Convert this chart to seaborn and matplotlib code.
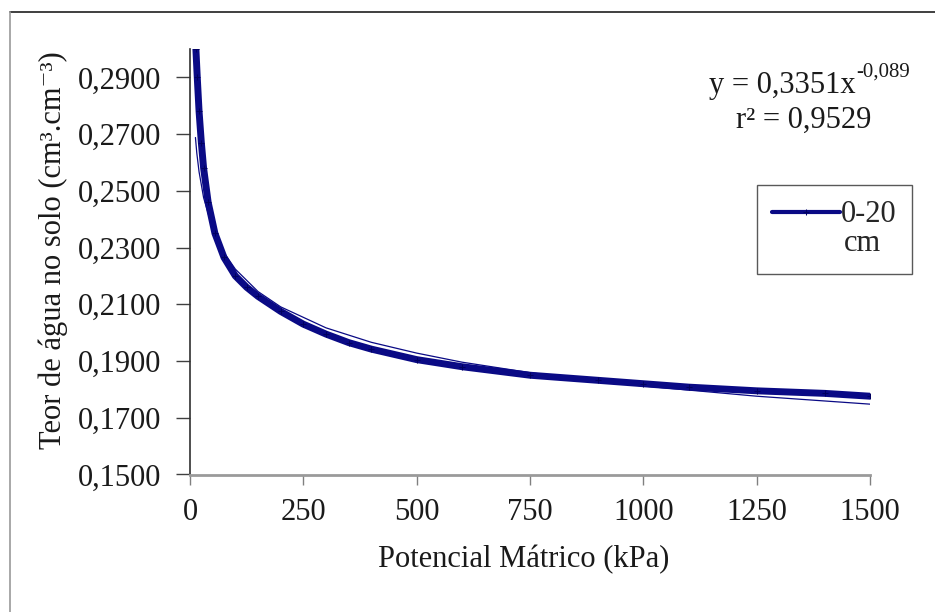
import matplotlib
matplotlib.use("Agg")
import matplotlib.pyplot as plt
from matplotlib.lines import Line2D
from matplotlib.ticker import FuncFormatter
import seaborn as sns
import pandas as pd

potencial_kpa = [13, 16, 20, 25, 30, 40, 55, 75, 100, 125, 150, 200, 250, 300,
                 350, 400, 500, 600, 750, 900, 1000, 1100, 1250, 1400, 1500]
teor_agua = [0.3000, 0.2900, 0.2780, 0.2670, 0.2580, 0.2460, 0.2350, 0.2265,
             0.2200, 0.2160, 0.2128, 0.2075, 0.2030, 0.1995, 0.1965, 0.1942,
             0.1905, 0.1880, 0.1850, 0.1832, 0.1820, 0.1808, 0.1795, 0.1786,
             0.1776]

# Power trend line (thin)
trend_kpa = [12, 15, 20, 30, 50, 75, 100, 150, 200, 300, 400, 500, 600,
             750, 900, 1000, 1250, 1500]
trend_teor = [0.2688, 0.2633, 0.2567, 0.2476, 0.2366, 0.2282,
              0.2224, 0.2145, 0.2091, 0.2017, 0.1966, 0.1928, 0.1896, 0.1859,
              0.1829, 0.1812, 0.1776, 0.1748]

x_ticks = [0, 250, 500, 750, 1000, 1250, 1500]
y_ticks = [0.15, 0.17, 0.19, 0.21, 0.23, 0.25, 0.27, 0.29]
serie_label = "0-20"
serie_label2 = "cm"
equacao = "y = 0,3351x"
expoente = "-0,089"
r2_texto = "r² = 0,9529"

sns.set_style("white")
plt.rcParams["font.family"] = ["Liberation Serif", "DejaVu Serif"]

navy = "#0a0a85"
txt = "#1a1a1a"

fig = plt.figure(figsize=(9.35, 6.12), dpi=100)
ax = fig.add_axes([190 / 935, 1 - 474.5 / 612, 680 / 935, 425.5 / 612])

df_data = pd.DataFrame({"x": potencial_kpa, "y": teor_agua})
df_trend = pd.DataFrame({"x": trend_kpa, "y": trend_teor})

sns.lineplot(data=df_trend, x="x", y="y", ax=ax, color=navy, lw=0.9,
             estimator=None, sort=False, legend=False)
sns.lineplot(data=df_data, x="x", y="y", ax=ax, color=navy, lw=5.0,
             marker="+", markersize=5, markeredgecolor="#000060",
             estimator=None, sort=False, label=serie_label)

ax.set_xlim(0, 1500)
ax.set_ylim(0.15, 0.30)
ax.set_xticks(x_ticks)
ax.set_yticks(y_ticks)
ax.yaxis.set_major_formatter(FuncFormatter(lambda v, p: f"{v:.4f}".replace(".", ",")))
ax.xaxis.set_major_formatter(FuncFormatter(lambda v, p: f"{int(round(v))}"))

for s in ["top", "right"]:
    ax.spines[s].set_visible(False)
ax.spines["left"].set_color("#303030")
ax.spines["left"].set_linewidth(1.2)
ax.spines["bottom"].set_color("#9a9a9a")
ax.spines["bottom"].set_linewidth(2.0)

ax.tick_params(axis="y", direction="out", length=10, width=1, color="#404040",
               labelsize=22, pad=11, left=True)
ax.tick_params(axis="x", direction="out", length=7, width=1, color="#808080",
               labelsize=22, pad=10, bottom=True)
for lab in ax.get_xticklabels() + ax.get_yticklabels():
    lab.set_color(txt)

ax.set_xlabel("Potencial Mátrico (kPa)", fontsize=22, color=txt)
ax.set_ylabel("Teor de água no solo (cm³.cm⁻³)", fontsize=22, color=txt)
ax.xaxis.set_label_coords((524 - 190) / 680, (474.5 - 560) / 425.5)
ax.xaxis.label.set_va("center")
ax.yaxis.set_label_coords((53 - 190) / 680, (474.5 - 250) / 425.5)
ax.yaxis.label.set_va("center")

t_eq = ax.text((856 - 190) / 680, (474.5 - 85) / 425.5, equacao, transform=ax.transAxes,
               ha="right", va="center", fontsize=22, color=txt)
ax.annotate(expoente, xy=(1.0, 0.62), xycoords=t_eq, ha="left", va="bottom",
            fontsize=15, color=txt)
ax.text((804 - 190) / 680, (474.5 - 120) / 425.5, r2_texto, transform=ax.transAxes,
        ha="center", va="center", fontsize=22, color=txt)

handles, _ = ax.get_legend_handles_labels()
blank = Line2D([], [], color="none")
leg = ax.legend([handles[0], blank], [serie_label, serie_label2],
                loc="upper right", bbox_to_anchor=((912 - 190) / 680, (474.5 - 185) / 425.5),
                frameon=True, fancybox=False, fontsize=22, handlelength=2.2,
                handletextpad=0.05, borderpad=0.5, borderaxespad=0.0,
                labelspacing=0.0)
leg.get_frame().set_edgecolor("#303030")
leg.get_frame().set_linewidth(1.0)
leg.get_lines()[0].set_linewidth(3.0)
leg.get_texts()[1].set_position((3, 0))
leg.set_zorder(5)

# outer frame of the picture
fig.add_artist(Line2D([10 / 935, 1.0], [1 - 12 / 612, 1 - 12 / 612], color="#303030", lw=1.3))
fig.add_artist(Line2D([10 / 935, 10 / 935], [0.0, 1 - 12 / 612], color="#9a9a9a", lw=1.2))

fig.savefig("out.png", dpi=100, facecolor="white")
